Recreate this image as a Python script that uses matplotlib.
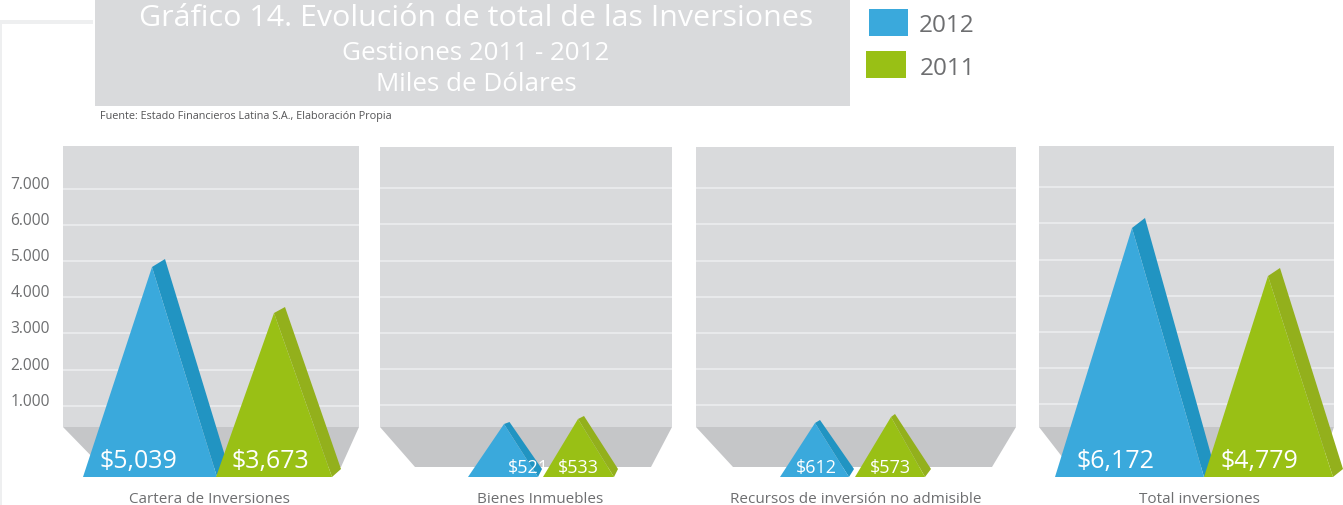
import matplotlib
matplotlib.use("Agg")
import matplotlib.pyplot as plt
from matplotlib.patches import Polygon, Rectangle
from matplotlib.transforms import ScaledTranslation

W, H = 1343, 506
SHIFT = 1  # pixels, whole drawing downward
plt.rcParams['font.family'] = ['Open Sans', 'DejaVu Sans']

# ---- data ----
categories = ["Cartera de Inversiones", "Bienes Inmuebles",
              "Recursos de inversión no admisible", "Total inversiones"]
labels_2012 = ["$5,039", "$521", "$612", "$6,172"]
labels_2011 = ["$3,673", "$533", "$573", "$4,779"]
# peak heights as they stand against the axis (the drawing is not to scale)
heights_2012 = [4834, 483, 511, 5873]
heights_2011 = [3563, 622, 677, 4543]
tick_values = [1000, 2000, 3000, 4000, 5000, 6000, 7000]
tick_labels = ["1.000", "2.000", "3.000", "4.000", "5.000", "6.000", "7.000"]
series_names = ["2012", "2011"]

# ---- styles ----
PANEL = "#d9dadc"
FLOOR = "#c5c6c8"
GRID = "#e9eaec"
TEXT = "#6d6e70"
BLUE, BLUE_SIDE = "#3aa9dc", "#2194c2"
GREEN, GREEN_SIDE = "#99c015", "#93b01c"

# ---- layout (pixels) ----
panels = [
    dict(x=(63, 359), top=146, zero=442.0, per1000=36.2, floor=(102, 341),
         blue=(83, 217, 152, 165, 8, 229), green=(216, 332, 274, 285, 6, 341),
         lab_y=461, lab_fs=18, lab_x=(138, 270), cat_x=209),
    dict(x=(380, 672), top=147, zero=441.5, per1000=36.2, floor=(415, 651),
         blue=(468, 538, 504, 509.5, 2, 542), green=(543, 614, 578, 584, 3, 618),
         lab_y=467, lab_fs=13, lab_x=(528, 578), cat_x=540.5),
    dict(x=(696, 1016), top=147, zero=441.5, per1000=36.2, floor=(733, 992),
         blue=(780, 849, 815, 820, 3, 854), green=(855, 925, 891, 895, 3, 931),
         lab_y=467, lab_fs=13, lab_x=(816, 890), cat_x=856),
    dict(x=(1039, 1334), top=146, zero=440.0, per1000=36.1, floor=(1070, 1320),
         blue=(1055, 1204, 1132, 1145, 10, 1215), green=(1204, 1333, 1268, 1280, 8, 1343),
         lab_y=461, lab_fs=18, lab_x=(1116, 1259), cat_x=1199),
]
FLOOR_TOP, FLOOR_BOTTOM, BASE = 427, 467, 477

fig = plt.figure(figsize=(W / 100, H / 100), dpi=100, facecolor="white")

# overlay in pixel coordinates for the header and furniture
bg = fig.add_axes([0, 0, 1, 1], zorder=0)
bg.set_xlim(0, W)
bg.set_ylim(H - SHIFT, -SHIFT)
bg.axis("off")
bg.add_patch(Rectangle((0, 20), 93, 4, fc="#eeeff0", ec="none"))
bg.add_patch(Rectangle((0, 24), 2, H - 24, fc="#eeeff0", ec="none"))
bg.add_patch(Rectangle((95, -SHIFT), 755, 106 + SHIFT, fc=PANEL, ec="none"))
bg.text(476, 17.5, "Gráfico 14. Evolución de total de las Inversiones", color="white",
        fontsize=21.9, ha="center", va="center")
bg.text(475.5, 52.5, "Gestiones 2011 - 2012", color="white", fontsize=18.7, ha="center", va="center")
bg.text(476, 83, "Miles de Dólares", color="white", fontsize=18.7, ha="center", va="center")
bg.text(100, 115, "Fuente: Estado Financieros Latina S.A., Elaboración Propia",
        color="#555557", fontsize=7.8, ha="left", va="center")
bg.add_patch(Rectangle((869, 9), 39, 27, fc=BLUE, ec="none"))
bg.add_patch(Rectangle((866, 51), 40, 27, fc=GREEN, ec="none"))
bg.text(919, 24.5, series_names[0], color=TEXT, fontsize=17.5, ha="left", va="center")
bg.text(920, 67.5, series_names[1], color=TEXT, fontsize=17.5, ha="left", va="center")


def peak(ax, geom, height, p, front, side):
    left, right, apex_x, top_x, rise, bot_x = geom
    val = lambda y: (p["zero"] - y) / p["per1000"] * 1000
    base = val(BASE)
    rise_v = rise / p["per1000"] * 1000
    ax.add_patch(Polygon([(apex_x, height), (top_x, height + rise_v), (bot_x, val(BASE - 8)),
                          (right, base)], closed=True, fc=side, ec="none", clip_on=False, zorder=4))
    ax.add_patch(Polygon([(left, base), (right, base), (apex_x, height)],
                         closed=True, fc=front, ec="none", clip_on=False, zorder=5))


for i, p in enumerate(panels):
    x0, x1 = p["x"]
    val = lambda y, p=p: (p["zero"] - y) / p["per1000"] * 1000
    ax = fig.add_axes([x0 / W, 1 - (FLOOR_TOP + SHIFT) / H, (x1 - x0) / W, (FLOOR_TOP - p["top"]) / H],
                      zorder=1 + i)
    ax.set_xlim(x0, x1)
    ax.set_ylim(val(FLOOR_TOP), val(p["top"]))
    ax.set_facecolor(PANEL)
    for s in ax.spines.values():
        s.set_visible(False)
    ax.set_xticks([])
    ax.set_yticks(tick_values)
    ax.grid(axis="y", color=GRID, linewidth=1.4)
    ax.set_axisbelow(True)
    if i == 0:
        ax.set_yticklabels(tick_labels, color=TEXT, fontsize=11.2, va="center")
        ax.tick_params(axis="y", length=0, pad=9.4)
        up = ScaledTranslation(0, 5 / 100, fig.dpi_scale_trans)
        for lbl in ax.get_yticklabels():
            lbl.set_transform(lbl.get_transform() + up)
    else:
        ax.tick_params(axis="y", length=0, labelleft=False)
    ax.add_patch(Polygon([(x0, val(FLOOR_TOP)), (x1, val(FLOOR_TOP)),
                          (p["floor"][1], val(FLOOR_BOTTOM)), (p["floor"][0], val(FLOOR_BOTTOM))],
                         closed=True, fc=FLOOR, ec="none", clip_on=False, zorder=3))
    peak(ax, p["blue"], heights_2012[i], p, BLUE, BLUE_SIDE)
    peak(ax, p["green"], heights_2011[i], p, GREEN, GREEN_SIDE)
    ax.text(p["lab_x"][0], val(p["lab_y"]), labels_2012[i], color="white", fontsize=p["lab_fs"],
            ha="center", va="center", zorder=7, clip_on=False)
    ax.text(p["lab_x"][1], val(p["lab_y"]), labels_2011[i], color="white", fontsize=p["lab_fs"],
            ha="center", va="center", zorder=7, clip_on=False)
    ax.text(p["cat_x"], val(498.5), categories[i], color=TEXT, fontsize=11,
            ha="center", va="center", clip_on=False)

fig.savefig("out.png", dpi=100)
